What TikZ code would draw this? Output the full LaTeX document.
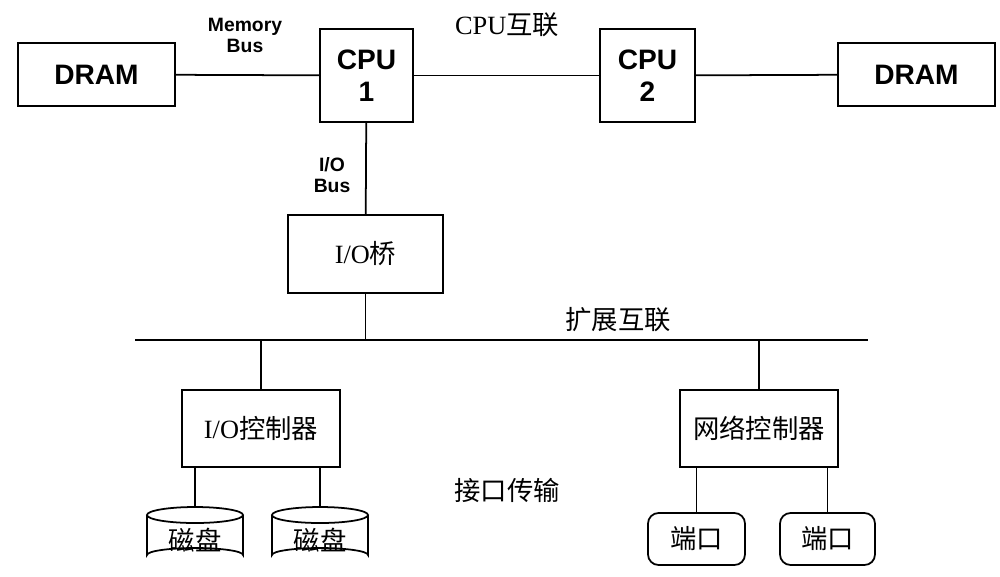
\documentclass[tikz,border=0pt]{standalone}
\usepackage{fontspec}
\setmainfont{Liberation Serif}
\newfontfamily\cjk{Noto Sans CJK SC}
\newfontfamily\hv{Liberation Sans}
\begin{document}
\begin{tikzpicture}[x=0.02cm,y=-0.02cm,line width=1pt,
  box/.style={draw,minimum width=#1*0.02cm,inner sep=0},
  bold/.style={font=\hv\bfseries\fontsize{16}{18}\selectfont,align=center},
  zh/.style={font=\fontsize{15}{17}\selectfont},
  lab/.style={font=\hv\bfseries\fontsize{11}{12}\selectfont,align=center}]
\useasboundingbox (0,0) rectangle (1000,576);
\node[box=157,minimum height=1.26cm,bold] (d1) at (96.5,74.5) {DRAM};
\node[box=93,minimum height=1.86cm,bold] (c1) at (366.5,75.5) {CPU\\1};
\node[box=95,minimum height=1.86cm,bold] (c2) at (647.5,75.5) {CPU\\2};
\node[box=157,minimum height=1.26cm,bold] (d2) at (916.5,74.5) {DRAM};
\node[lab] (mb) at (245,35) {Memory\\Bus};
\node[zh] (cl) at (507,25) {CPU{\cjk 互联}};
\node[lab] (ib) at (332,175) {I/O\\Bus};
\draw (d1) -- (c1); \draw (c1) -- (c2); \draw (c2) -- (d2);
\node[box=155,minimum height=1.56cm,zh] (br) at (365.5,254) {I/O{\cjk 桥}};
\draw (c1) -- (br);
\coordinate (bl) at (135,340); \coordinate (brr) at (868,340);
\draw (bl) -- (brr);
\coordinate (bj) at (365.5,340);
\draw (br) -- (bj);
\node[zh] (xl) at (618,320) {\cjk 扩展互联};
\node[box=158,minimum height=1.54cm,zh] (ioc) at (261,428.5) {I/O{\cjk 控制器}};
\node[box=158,minimum height=1.54cm,zh] (nc) at (759,428.5) {\cjk 网络控制器};
\draw (ioc.north) -- (ioc.north|-bl);
\draw (nc.north) -- (nc.north|-bl);
\node[zh] (jl) at (507,490) {\cjk 接口传输};
% disks
\foreach \n/\cx in {k1/195, k2/320}{
  \draw (\cx-48,515) -- (\cx-48,555) arc[start angle=180,end angle=360,x radius=48,y radius=7] -- (\cx+48,515);
  \draw (\cx,515) ellipse[x radius=48,y radius=8];
  \coordinate (\n) at (\cx,507);
  \node[zh] at (\cx,540) {\cjk 磁盘};
}
\draw (ioc.south-|k1) -- (k1);
\draw (ioc.south-|k2) -- (k2);
% ports
\node[draw,rounded corners=6pt,minimum width=1.94cm,minimum height=1.04cm,zh] (p1) at (696.5,539) {\cjk 端口};
\node[draw,rounded corners=6pt,minimum width=1.9cm,minimum height=1.04cm,zh] (p2) at (827.5,539) {\cjk 端口};
\draw (nc.south-|p1) -- (p1);
\draw (nc.south-|p2) -- (p2);
\end{tikzpicture}
\end{document}
